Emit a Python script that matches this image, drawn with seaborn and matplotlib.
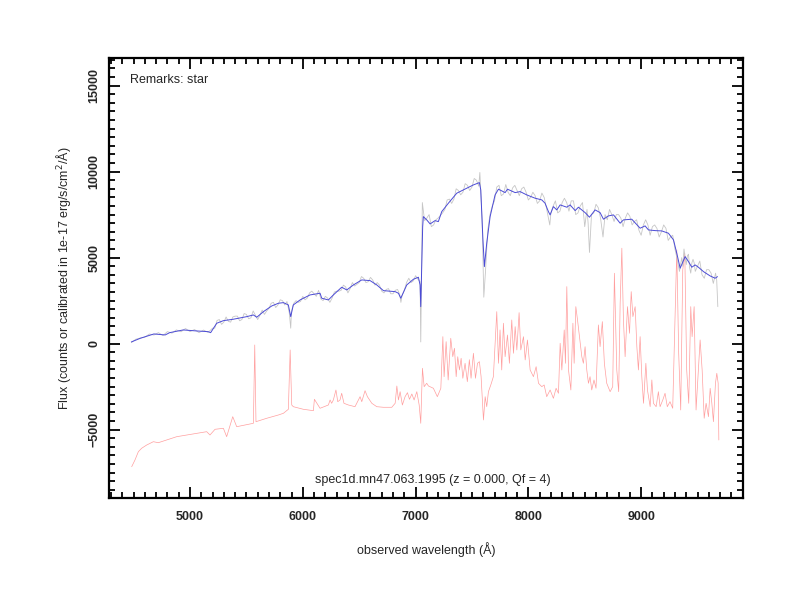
import numpy as np
import pandas as pd
import matplotlib
matplotlib.use("Agg")
import matplotlib.pyplot as plt
from matplotlib.ticker import MultipleLocator
import seaborn as sns

# =========================================
# DATA
# =========================================

# smoothed object spectrum (blue)
smooth_wl = [4480, 4560, 4680, 4780, 4820, 4940, 5060, 5160, 5183, 5237, 5296, 5384,
             5503, 5562, 5592, 5651, 5725, 5784, 5828, 5872, 5893, 5916, 5976, 6064,
             6153, 6168, 6227, 6271, 6345, 6390, 6449, 6523, 6597, 6656, 6715, 6819,
             6848, 6869, 6922, 6981, 7025, 7040, 7046, 7063, 7069, 7099, 7129, 7173,
             7202, 7232, 7291, 7365, 7454, 7513, 7566, 7578, 7596, 7610, 7631, 7661,
             7705, 7735, 7794, 7815, 7883, 7927, 7986, 8060, 8119, 8148, 8178, 8193,
             8222, 8252, 8282, 8341, 8370, 8415, 8444, 8503, 8542, 8592, 8636, 8666,
             8710, 8755, 8814, 8843, 8917, 8991, 9035, 9065, 9124, 9183, 9242, 9287,
             9316, 9346, 9390, 9420, 9449, 9479, 9508, 9553, 9612, 9656, 9677]
smooth_flux = [100, 314, 564, 506, 640, 797, 738, 698, 640, 1186, 1337, 1419,
               1570, 1669, 1535, 1860, 2192, 2349, 2384, 2250, 1570, 2250, 2541, 2831,
               2930, 2640, 2541, 2831, 3279, 3122, 3413, 3704, 3663, 3413, 3082, 3023,
               2930, 2640, 3413, 3744, 3860, 3413, 2151, 6802, 7384, 7192, 6959, 7151,
               7093, 7674, 8163, 8744, 9035, 9227, 9360, 8936, 6221, 4477, 5837, 7384,
               8645, 8977, 8779, 8977, 8779, 8837, 8645, 8453, 8355, 8163, 7674, 7483,
               7965, 7773, 8064, 7930, 8064, 7733, 7930, 7616, 7349, 7773, 7616, 7233,
               7425, 7483, 7000, 7192, 7233, 6709, 6843, 6610, 6570, 6552, 6418, 6029,
               5256, 4384, 5058, 4768, 4442, 4576, 4442, 4186, 3936, 3802, 3895]

# raw object spectrum (grey)
raw_wl = [4480, 4520, 4560, 4600, 4640, 4680, 4720, 4760, 4800, 4840, 4880, 4920,
          4960, 5000, 5040, 5080, 5120, 5160, 5200, 5220, 5240, 5260, 5280, 5300,
          5320, 5340, 5360, 5380, 5400, 5420, 5440, 5460, 5480, 5500, 5520, 5540,
          5560, 5580, 5600, 5620, 5640, 5660, 5680, 5700, 5720, 5740, 5760, 5780,
          5800, 5820, 5840, 5860, 5880, 5893, 5900, 5920, 5940, 5960, 5980, 6000,
          6020, 6040, 6060, 6080, 6100, 6120, 6140, 6160, 6180, 6200, 6220, 6240,
          6260, 6280, 6300, 6320, 6340, 6360, 6380, 6400, 6420, 6440, 6460, 6480,
          6500, 6520, 6540, 6560, 6580, 6600, 6620, 6640, 6660, 6680, 6700, 6720,
          6740, 6760, 6780, 6800, 6820, 6840, 6860, 6870, 6880, 6900, 6920, 6940,
          6960, 6980, 7000, 7020, 7040, 7046, 7060, 7080, 7100, 7120, 7140, 7160,
          7180, 7200, 7220, 7240, 7260, 7280, 7300, 7320, 7340, 7360, 7380, 7400,
          7420, 7440, 7460, 7480, 7500, 7520, 7540, 7560, 7570, 7590, 7605, 7620,
          7640, 7660, 7680, 7700, 7720, 7740, 7760, 7780, 7800, 7820, 7840, 7860,
          7880, 7900, 7920, 7940, 7960, 7980, 8000, 8020, 8040, 8060, 8080, 8100,
          8120, 8140, 8160, 8190, 8200, 8220, 8240, 8260, 8280, 8300, 8320, 8340,
          8360, 8380, 8400, 8420, 8440, 8460, 8480, 8500, 8520, 8530, 8542, 8560,
          8580, 8600, 8620, 8640, 8662, 8680, 8700, 8720, 8740, 8760, 8780, 8800,
          8820, 8840, 8860, 8880, 8900, 8920, 8940, 8960, 8980, 9000, 9020, 9040,
          9060, 9080, 9100, 9120, 9140, 9160, 9180, 9200, 9220, 9240, 9260, 9280,
          9300, 9320, 9340, 9360, 9370, 9380, 9390, 9400, 9410, 9420, 9430, 9440,
          9450, 9460, 9470, 9480, 9500, 9520, 9540, 9560, 9580, 9600, 9620, 9640,
          9660, 9670, 9680]
raw_flux = [60, 260, 330, 380, 560, 500, 640, 470, 700, 610, 800, 690,
            880, 700, 820, 640, 790, 650, 900, 900, 1350, 1400, 1120, 1250,
            1550, 1300, 1250, 1550, 1600, 1600, 1330, 1400, 1750, 1700, 1450, 1500,
            1900, 1650, 1400, 1650, 1950, 1700, 1900, 2050, 2350, 2400, 2100, 2250,
            2550, 2500, 2250, 2450, 1800, 900, 1900, 2350, 2500, 2400, 2450, 2750,
            2550, 2650, 2950, 3050, 2900, 2750, 3100, 2600, 2500, 2750, 2650, 2400,
            2650, 3000, 3050, 3050, 3100, 3400, 3300, 2950, 3200, 3550, 3350, 3450,
            3550, 3900, 3800, 3550, 3600, 3850, 3700, 3400, 3550, 3400, 3050, 2950,
            3150, 3200, 2900, 2900, 3100, 3150, 2850, 2400, 2800, 3100, 3550, 3800,
            3550, 3650, 3950, 3750, 3600, 100, 8200, 7150, 7300, 7500, 6800, 6900,
            7200, 7300, 7450, 7600, 7800, 8350, 8400, 8150, 8400, 9000, 8900, 8650,
            8800, 9300, 9200, 8900, 9100, 9600, 9500, 9150, 9950, 7200, 2700, 4200,
            6600, 7500, 8000, 8300, 9100, 9200, 8600, 8700, 9250, 8800, 8600, 9050,
            9200, 8900, 8600, 9000, 9100, 8800, 8350, 8500, 8800, 8600, 8150, 8300,
            8750, 8500, 7900, 6900, 7600, 8000, 8300, 7600, 7700, 8200, 8450, 8200,
            7700, 8300, 8300, 7500, 7600, 8000, 8200, 6800, 7800, 7000, 5300, 7500,
            7600, 8100, 7900, 7300, 6200, 7500, 7200, 7800, 7500, 7100, 7500, 7500,
            7300, 6800, 7300, 7600, 7400, 6900, 7100, 7200, 6600, 6300, 6900, 7200,
            6900, 6300, 6800, 6900, 6700, 6200, 6500, 6900, 6700, 6000, 6200, 6300,
            5500, 4900, 4200, 5000, 4500, 5500, 5000, 4600, 5100, 5200, 4400, 4100,
            4700, 4900, 4700, 4200, 4500, 4800, 4000, 3800, 4300, 4300, 4100, 3500,
            4100, 3700, 2150]

# sky spectrum, offset (red)
sky_wl = [4483, 4512, 4542, 4571, 4616, 4675, 4719, 4793, 4882, 4971, 5059, 5148,
          5177, 5222, 5296, 5325, 5379, 5414, 5532, 5562, 5574, 5585, 5680, 5784,
          5828, 5872, 5888, 5902, 5916, 6005, 6094, 6103, 6153, 6227, 6242, 6256,
          6271, 6294, 6310, 6330, 6345, 6365, 6404, 6463, 6493, 6508, 6523, 6552,
          6573, 6612, 6656, 6715, 6789, 6819, 6834, 6848, 6863, 6883, 6907, 6928,
          6946, 6967, 6987, 7011, 7032, 7046, 7061, 7076, 7099, 7114, 7158, 7193,
          7224, 7242, 7253, 7271, 7289, 7312, 7330, 7345, 7360, 7374, 7389, 7404,
          7419, 7439, 7459, 7477, 7492, 7513, 7531, 7549, 7566, 7581, 7602, 7617,
          7631, 7646, 7667, 7690, 7705, 7720, 7735, 7749, 7764, 7779, 7794, 7815,
          7832, 7853, 7868, 7883, 7898, 7918, 7933, 7957, 7972, 7992, 8016, 8045,
          8069, 8090, 8119, 8140, 8163, 8193, 8222, 8246, 8267, 8282, 8297, 8318,
          8329, 8341, 8356, 8377, 8395, 8406, 8421, 8436, 8453, 8474, 8488, 8503,
          8518, 8533, 8547, 8562, 8582, 8600, 8621, 8636, 8656, 8674, 8695, 8725,
          8748, 8763, 8784, 8801, 8814, 8829, 8843, 8858, 8879, 8897, 8912, 8927,
          8947, 8962, 8976, 8991, 9006, 9021, 9042, 9056, 9080, 9095, 9109, 9133,
          9153, 9168, 9192, 9212, 9232, 9256, 9280, 9300, 9316, 9333, 9351, 9369,
          9387, 9404, 9422, 9440, 9452, 9470, 9487, 9508, 9523, 9541, 9559, 9576,
          9597, 9612, 9627, 9641, 9659, 9671, 9683, 9689]
sky_flux = [-7151, -6762, -6279, -6081, -5890, -5698, -5756, -5599, -5407, -5308, -5209, -5116,
            -5308, -4977, -4919, -5407, -4244, -4826, -4669, -4628, -76, -4535, -4337, -4145,
            -4047, -3814, -366, -3564, -3663, -3814, -3895, -3233, -3756, -3564, -3273, -3465,
            -3273, -2692, -3372, -3273, -2884, -3465, -3564, -3663, -3273, -3081, -3372, -2733,
            -3081, -3465, -3663, -3698, -3698, -3465, -2459, -3273, -2791, -3564, -3081, -2849,
            -3233, -2924, -3273, -2791, -3564, -4628, -1430, -2500, -2302, -2459, -2593, -3081,
            -2593, 407, -1918, 116, -2110, 314, -756, -267, -1918, -756, -1529, -849,
            -2012, -1140, -2209, -930, -2012, -558, -2012, -1140, -1047, -1918, -4436, -3081,
            -3663, -2791, -2401, -1918, 23, 1860, -1140, 797, -1529, 1186, -756, 506,
            -1140, 1378, -558, 988, -366, 1802, -366, 407, -948, 215, -1529, -1918,
            -1337, -2302, -2500, -2401, -3081, -2692, -3175, -2593, -2884, 23, -1529, 797,
            -1140, 3314, -1529, -2692, 1186, -1140, 2151, 1378, 407, -756, -1140, -174,
            -1529, -2302, -1918, -2692, -2110, -2593, 1087, -174, 1279, -1140, -2302, -2791,
            -2500, 4093, -1529, -2791, 2349, 5547, 1378, -756, 2151, 605, 3023, 1570,
            2151, -174, -1529, 407, -1918, -3465, -1140, -2692, -3663, -2110, -3465, -3663,
            -2791, -3663, -3273, -2884, -3663, -3372, -3756, 1378, 5448, -558, -3855, 4285,
            5256, -1529, -3465, 2151, 407, 2151, -3855, -1529, 215, -1529, -4337, -3465,
            -4244, -2593, -3465, -4535, -2302, -1721, -2302, -5599]

remarks = "Remarks: star"
spec_name = "spec1d.mn47.063.1995 (z = 0.000, Qf = 4)"

smooth_df = pd.DataFrame({"wl": smooth_wl, "flux": smooth_flux})
raw_df = pd.DataFrame({"wl": raw_wl, "flux": raw_flux})
sky_df = pd.DataFrame({"wl": sky_wl, "flux": sky_flux})

# =========================================
# PLOT
# =========================================

sns.set_style("ticks")
plt.rcParams["font.family"] = ["Liberation Sans", "DejaVu Sans"]

fig = plt.figure(figsize=(8, 6), dpi=100)
ax = fig.add_axes([0.136, 0.17, 0.793, 0.733])

sns.lineplot(data=sky_df, x="wl", y="flux", estimator=None, sort=False,
             color="#ff6b6b", lw=0.5, alpha=0.65, ax=ax)
sns.lineplot(data=raw_df, x="wl", y="flux", estimator=None, sort=False,
             color="#c6c6c6", lw=0.6, ax=ax)
sns.lineplot(data=smooth_df, x="wl", y="flux", estimator=None, sort=False,
             color="#4b4bd6", lw=0.7, ax=ax)

ax.set_xlim(4280, 9905)
ax.set_ylim(-8970, 16590)

ax.xaxis.set_major_locator(MultipleLocator(1000))
ax.xaxis.set_minor_locator(MultipleLocator(100))
ax.yaxis.set_major_locator(MultipleLocator(5000))
ax.yaxis.set_minor_locator(MultipleLocator(500))

ax.tick_params(which="both", direction="in", top=True, right=True, width=1.3, color="black")
ax.tick_params(which="major", length=8)
ax.tick_params(which="minor", length=4)
ax.tick_params(axis="x", pad=9)
ax.tick_params(axis="y", pad=6)
for lbl in ax.get_xticklabels() + ax.get_yticklabels():
    lbl.set_fontsize(9)
    lbl.set_fontweight("bold")
for lbl in ax.get_yticklabels():
    lbl.set_rotation(90)
    lbl.set_va("center")

for sp in ax.spines.values():
    sp.set_linewidth(1.6)
    sp.set_color("black")

ax.set_xlabel("observed wavelength (Å)", fontsize=9, labelpad=14)
ax.set_ylabel("Flux (counts or calibrated in 1e-17 erg/s/cm$^2$/Å)", fontsize=9, labelpad=11)

ax.text(0.033, 0.965, remarks, transform=ax.transAxes, fontsize=9, ha="left", va="top")
ax.text(0.51, 0.04, spec_name, transform=ax.transAxes, fontsize=9, ha="center", va="center")

fig.savefig("out.png", dpi=100)
plt.close(fig)
